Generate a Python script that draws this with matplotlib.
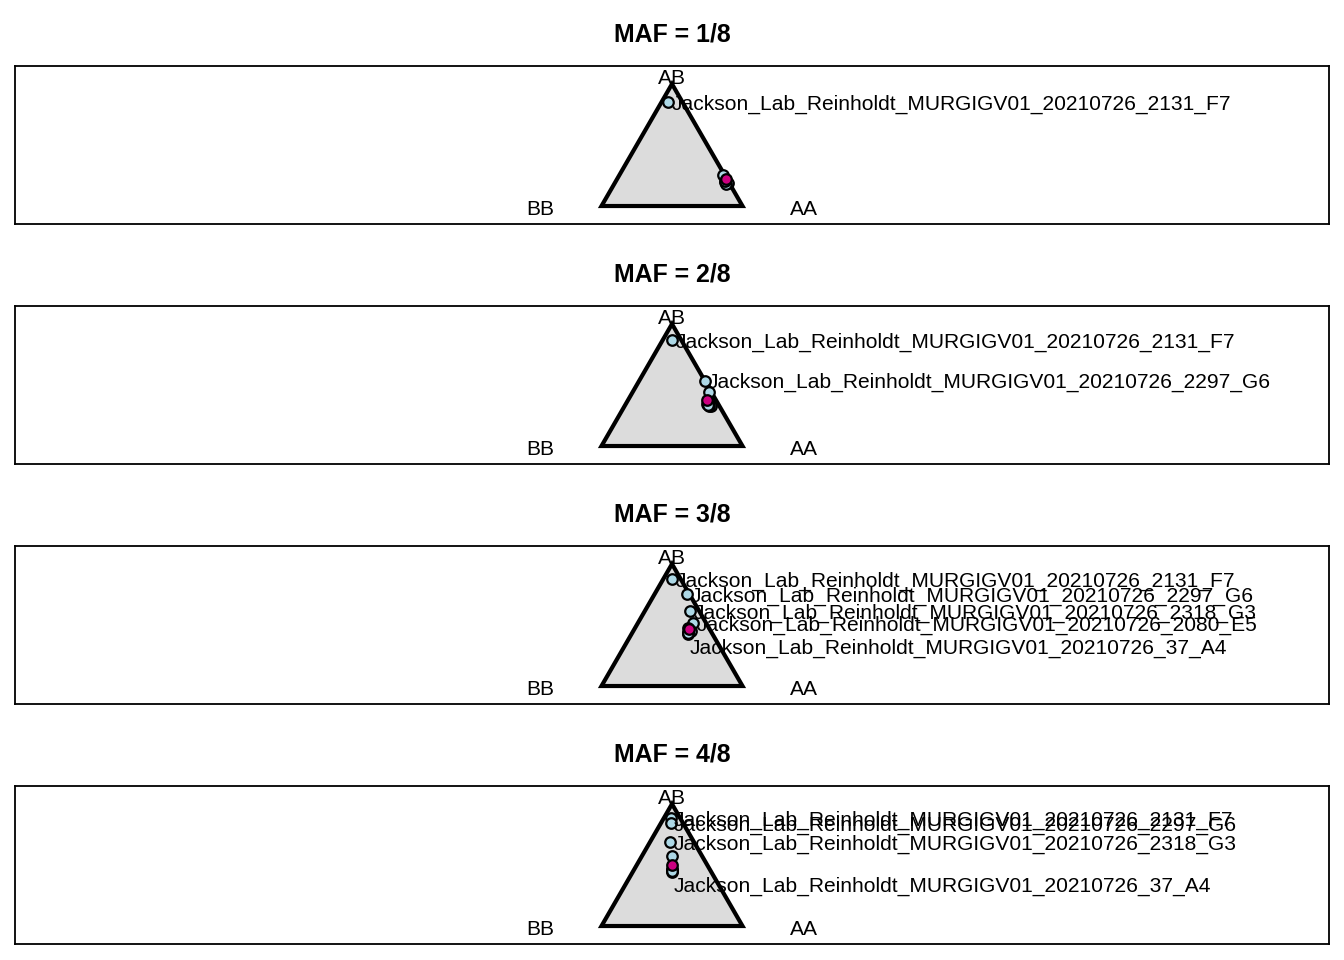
import numpy as np
import matplotlib
matplotlib.use('Agg')
import matplotlib.pyplot as plt

plt.rcParams['font.family'] = ['Liberation Sans', 'DejaVu Sans']

titles = ['MAF = 1/8', 'MAF = 2/8', 'MAF = 3/8', 'MAF = 4/8']
pre = 'Jackson_Lab_Reinholdt_MURGIGV01_20210726_'

# genotype fractions (AA, AB) per sample; BB = 1 - AA - AB
# label '' -> unlabelled sample
p1_aa = [0.049, 0.738, 0.781, 0.800, 0.790, 0.772]
p1_ab = [0.852, 0.254, 0.196, 0.188, 0.180, 0.205]
p1_lab = ['2131_F7', '', '', '', '', '']
p1_par = [0.769, 0.221]

p2_aa = [0.067, 0.463, 0.539, 0.590, 0.616, 0.573, 0.600, 0.585]
p2_ab = [0.868, 0.535, 0.445, 0.352, 0.328, 0.344, 0.330, 0.340]
p2_lab = ['2131_F7', '2297_G6', '', '', '', '', '', '']
p2_par = [0.563, 0.377]

p3_aa = [0.063, 0.233, 0.324, 0.391, 0.404, 0.413, 0.379, 0.395, 0.398]
p3_ab = [0.876, 0.751, 0.614, 0.514, 0.426, 0.450, 0.475, 0.440, 0.432]
p3_lab = ['2131_F7', '2297_G6', '2318_G3', '2080_E5', '37_A4', '', '', '', '']
p3_par = [0.391, 0.466]

p4_aa = [0.047, 0.068, 0.145, 0.215, 0.280, 0.268, 0.274, 0.276]
p4_ab = [0.885, 0.843, 0.688, 0.573, 0.442, 0.467, 0.455, 0.448]
p4_lab = ['2131_F7', '2297_G6', '2318_G3', '', '37_A4', '', '', '']
p4_par = [0.251, 0.500]

panels = [(p1_aa, p1_ab, p1_lab, p1_par),
          (p2_aa, p2_ab, p2_lab, p2_par),
          (p3_aa, p3_ab, p3_lab, p3_par),
          (p4_aa, p4_ab, p4_lab, p4_par)]

H = np.sqrt(3) / 2


def tern(aa, ab):
    aa = np.asarray(aa, float)
    ab = np.asarray(ab, float)
    return aa + ab / 2, ab * H


fig = plt.figure(figsize=(13.44, 9.6), dpi=100)
fs = 15.1

for i, (aa, ab, lab, par) in enumerate(panels):
    top = 66 + 240 * i
    ax = fig.add_axes([15 / 1344, (960 - top - 158) / 960, 1314 / 1344, 158 / 960])
    half = 1314 / 141 / 2
    ax.set_xlim(0.5 - half, 0.5 + half)
    ax.set_ylim(-18 / 141, H + 18 / 141)
    ax.set_xticks([])
    ax.set_yticks([])
    for s in ax.spines.values():
        s.set_linewidth(1.3)

    tri = plt.Polygon([[0, 0], [1, 0], [0.5, H]], closed=True,
                      facecolor='#dcdcdc', edgecolor='black', linewidth=3.0,
                      joinstyle='miter', zorder=1)
    ax.add_patch(tri)
    ax.text(-0.433, -0.026, 'BB', fontsize=fs, ha='center', va='center')
    ax.text(1.433, -0.026, 'AA', fontsize=fs, ha='center', va='center')
    ax.text(0.5, H + 0.036, 'AB', fontsize=fs, ha='center', va='center')

    x, y = tern(aa, ab)
    ax.plot(x, y, 'o', ms=7.6, mfc='#add8e6', mec='black', mew=1.6, zorder=3,
            linestyle='none')
    px, py = tern([par[0]], [par[1]])
    ax.plot(px, py, 'o', ms=7.6, mfc='#cc0080', mec='black', mew=1.6, zorder=4)

    for xi, yi, l in zip(x, y, lab):
        if not l:
            continue
        off = (2.5, -1.4)
        if l.endswith('A4'):
            off = (1.0, -10.0)
        ax.annotate(pre + l, (xi, yi), xytext=off, textcoords='offset points',
                    fontsize=fs, ha='left', va='center', zorder=5)

    fig.text(672 / 1344, 1 - (35 + 240 * i) / 960, titles[i], fontsize=17.9,
             fontweight='bold', ha='center', va='center')

fig.savefig('out.png', dpi=100)
